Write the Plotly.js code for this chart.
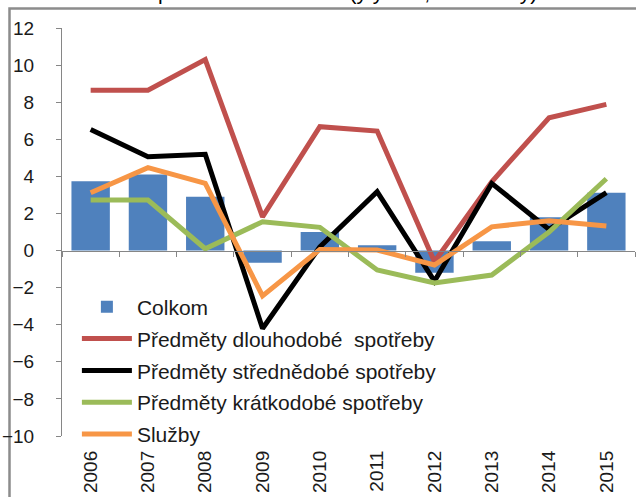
<!DOCTYPE html>
<html>
<head>
<meta charset="utf-8">
<script src="https://cdn.plot.ly/plotly-3.0.1.min.js"></script>
<style>html,body{margin:0;padding:0;background:#fff;}#chart{width:636px;height:497px;}</style>
</head>
<body>
<div id="chart"></div>
<script>
const years = ["2006","2007","2008","2009","2010","2011","2012","2013","2014","2015"];
const celkom = [3.73, 4.1, 2.9, -0.66, 1.0, 0.28, -1.2, 0.5, 1.79, 3.12];
const dlouhodobe = [8.65, 8.65, 10.3, 1.82, 6.68, 6.44, -0.6, 3.71, 7.16, 7.88];
const strednedobe = [6.53, 5.06, 5.19, -4.2, 0.2, 3.17, -1.65, 3.62, 1.14, 3.12];
const kratkodobe = [2.72, 2.72, 0.1, 1.55, 1.25, -1.05, -1.75, -1.32, 1.0, 3.87];
const sluzby = [3.12, 4.47, 3.62, -2.45, 0.06, 0.03, -0.78, 1.28, 1.61, 1.32];
const names = ["Colkom", "Předměty dlouhodobé  spotřeby", "Předměty střednědobé spotřeby", "Předměty krátkodobé spotřeby", "Služby"];
const titleText = "Spotřeba domácností (y/y v %, stálé ceny)";

const FONT = "Liberation Sans, Arial, sans-serif";
const lw = 5;
const traces = [
  {type:"bar", x:years, y:celkom, name:names[0], marker:{color:"#4F81BD"}, legendgroup:"a"},
  {type:"scatter", mode:"lines", x:years, y:dlouhodobe, name:names[1], line:{color:"#C0504D", width:lw}, legendgroup:"b"},
  {type:"scatter", mode:"lines", x:years, y:strednedobe, name:names[2], line:{color:"#000000", width:lw}, legendgroup:"c"},
  {type:"scatter", mode:"lines", x:years, y:kratkodobe, name:names[3], line:{color:"#9BBB59", width:lw}, legendgroup:"d"},
  {type:"scatter", mode:"lines", x:years, y:sluzby, name:names[4], line:{color:"#F79646", width:lw}, legendgroup:"e"},
  {type:"scatter", mode:"lines", x:years, y:years.map(()=>null), xaxis:"x2", showlegend:false, hoverinfo:"skip"}
];

const layout = {
  width:636, height:497,
  margin:{l:62, r:1, t:28, b:61},
  paper_bgcolor:"#fff", plot_bgcolor:"rgba(0,0,0,0)",
  font:{family:FONT, size:19, color:"#1a1a1a"},
  showlegend:true,
  bargap:0.33,
  legend:{x:0.026, y:0.366, xanchor:"left", yanchor:"top", bgcolor:"rgba(0,0,0,0)", font:{size:21, family:FONT, color:"#1a1a1a"}, tracegroupgap:1.5, itemwidth:50},
  xaxis:{type:"category", categoryarray:years, categoryorder:"array", range:[-0.5,9.5], anchor:"free", position:10/22,
    showline:true, linecolor:"#868686", linewidth:1, ticks:"outside", tickson:"boundaries", ticklen:5, tickcolor:"#868686",
    showticklabels:false, showgrid:false, zeroline:false, fixedrange:true},
  xaxis2:{type:"category", categoryarray:years, categoryorder:"array", range:[-0.5,9.5], overlaying:"x", anchor:"y", side:"bottom",
    showline:false, ticks:"", showticklabels:true, tickangle:-90, ticklabelstandoff:10, showgrid:false, zeroline:false,
    tickfont:{size:19, family:FONT, color:"#1a1a1a"}},
  yaxis:{range:[-10,12], dtick:2, tick0:0, showline:true, linecolor:"#868686", linewidth:1, ticks:"outside", ticklen:5, tickcolor:"#868686",
    showgrid:false, zeroline:false, ticklabelstandoff:18, tickfont:{size:19, family:FONT, color:"#1a1a1a"}},
  shapes:[
    {type:"rect", xref:"paper", yref:"paper", x0:(9.5-62)/573, x1:1.3, y0:-0.3, y1:(436-8.5)/408, line:{color:"#8c8c8c", width:2.5}, fillcolor:"rgba(0,0,0,0)", layer:"below"}
  ],
  annotations:[
    {text:titleText, xref:"paper", yref:"paper", x:(340-62)/573, y:1.055, xanchor:"center", yanchor:"bottom", showarrow:false, font:{size:21, family:FONT, color:"#000"}}
  ]
};
Plotly.newPlot("chart", traces, layout, {displayModeBar:false, staticPlot:true});
</script>
</body>
</html>
